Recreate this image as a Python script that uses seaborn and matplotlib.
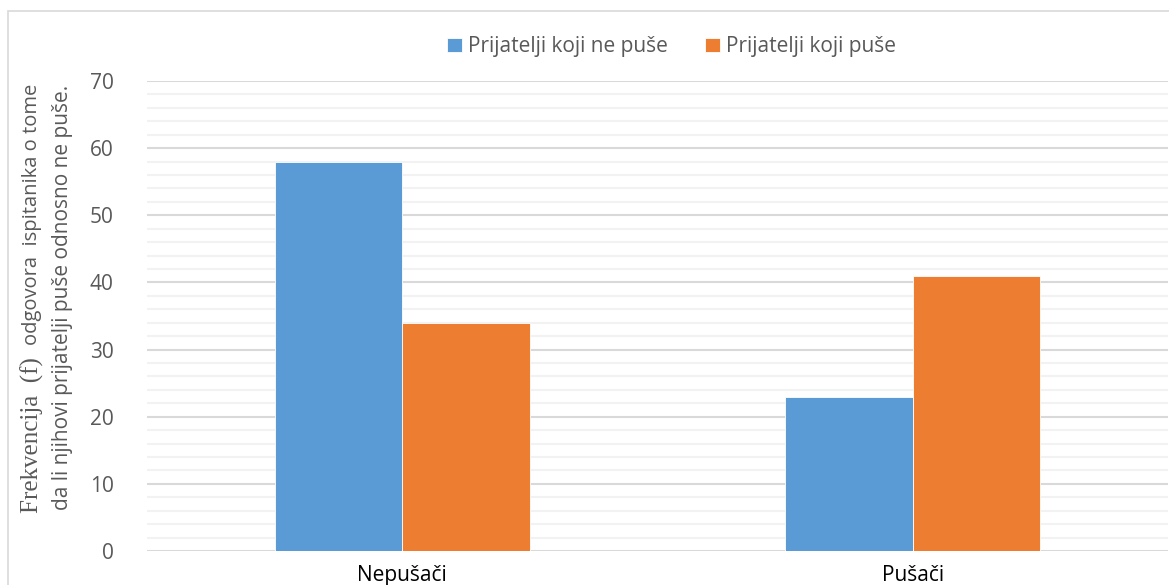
import pandas as pd
import numpy as np
import matplotlib
matplotlib.use('Agg')
import matplotlib.pyplot as plt
from matplotlib.patches import Rectangle
import seaborn as sns

# Data
categories = ['Nepušači', 'Pušači']
series = ['Prijatelji koji ne puše', 'Prijatelji koji puše']
ne_puse = [58, 23]
puse = [34, 41]
colors = ['#5B9BD5', '#ED7D31']

df = pd.DataFrame({
    'grupa': categories * 2,
    'serija': [series[0]] * 2 + [series[1]] * 2,
    'vrijednost': ne_puse + puse,
})

sns.set_theme(style='white')
plt.rcParams['font.family'] = ['Open Sans', 'DejaVu Sans']

W, H = 1169, 585
fig = plt.figure(figsize=(W / 100, H / 100), dpi=100)
ax = fig.add_axes([147 / W, 34 / H, 1021 / W, 470 / H])

sns.barplot(data=df, x='grupa', y='vrijednost', hue='serija', palette=colors,
            width=0.5, saturation=1, ax=ax, edgecolor='white', linewidth=0.6)

ax.set_xlim(-0.5, 1.5)
ax.set_ylim(0, 70)
ax.set_yticks(np.arange(0, 71, 10))
ax.set_yticks(np.arange(0, 71, 2), minor=True)
ax.grid(axis='y', which='major', color='#D9D9D9', linewidth=1.5, zorder=0)
ax.grid(axis='y', which='minor', color='#F2F2F2', linewidth=1.5, zorder=0)
ax.set_axisbelow(True)
for s in ax.spines.values():
    s.set_visible(False)
ax.tick_params(axis='y', which='both', length=0, pad=24, labelsize=15, labelcolor='#595959')
ax.tick_params(axis='x', length=0, pad=10, labelsize=15, labelcolor='black')
ax.set_xlabel('')
ax.set_ylabel('')

# y axis title: first line mixes a serif and a sans part
t1 = fig.text(32 / W, 1 - 513 / H, 'Frekvencija  (f)  ', rotation=90, rotation_mode='anchor',
              ha='left', va='center', fontsize=18, color='#595959',
              family=['Liberation Serif', 'DejaVu Serif'])
fig.canvas.draw()
bb = t1.get_window_extent()
fig.text(32 / W, bb.y1 / H, 'odgovora  ispitanika o tome', rotation=90, rotation_mode='anchor',
         ha='left', va='center', fontsize=14.5, color='#595959')
fig.text(63 / W, 1 - 297 / H, 'da li njihovi prijatelji puše odnosno ne puše.',
         rotation=90, ha='center', va='center', fontsize=15, color='#595959')

ax.legend(loc='upper center', bbox_to_anchor=(0.514, 1.135), ncol=2, frameon=False,
          fontsize=15, handlelength=0.7, handleheight=0.7, handletextpad=0.3,
          columnspacing=1.8, labelcolor='#595959')

# chart border
fig.add_artist(Rectangle((8 / W, -0.05), 1.2, 1.05 - 11 / H, transform=fig.transFigure,
                         fill=False, edgecolor='#D9D9D9', linewidth=1.2))

fig.savefig('out.png', dpi=100)
